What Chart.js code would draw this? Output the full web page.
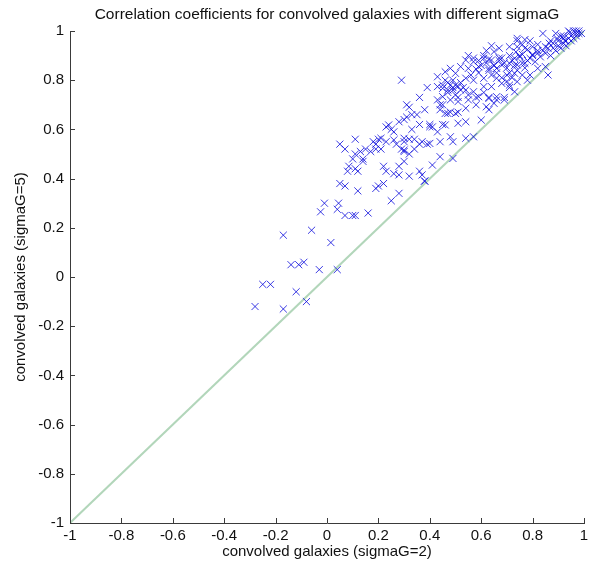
<!DOCTYPE html>
<html>
<head>
<meta charset="utf-8">
<script src="https://cdn.jsdelivr.net/npm/chart.js@4.4.1/dist/chart.umd.min.js"></script>
<style>
  body { margin: 0; background: #fff; }
  #wrap { width: 590px; height: 567px; }
</style>
</head>
<body>
<div id="wrap"><canvas id="chart"></canvas></div>
<script>
// correlation coefficient of each galaxy, sigmaG=2 (x) against sigmaG=5 (y)
const corrSigma2 = [
  -0.28, -0.25, -0.22, -0.17, -0.17, -0.14, -0.11, -0.09, -0.12, -0.08,
  -0.06, -0.03, 0.015, 0.04, 0.05, 0.07, 0.12, 0.19, 0.20, 0.22,
  0.28, 0.25, 0.38, -0.01, 0.045, -0.025, 0.04, 0.07, 0.10, 0.11,
  0.16, 0.36, 0.31, 0.38, 0.30, 0.31, 0.33, 0.35, 0.40, 0.36,
  0.33, 0.23, 0.25, 0.26, 0.11, 0.20, 0.18, 0.23, 0.27, 0.30,
  0.32, 0.34, 0.36, 0.37, 0.39, 0.05, 0.07, 0.11, 0.13, 0.15,
  0.17, 0.19, 0.29, 0.30, 0.32, 0.34, 0.10, 0.14, 0.14, 0.30,
  0.085, 0.08, 0.11, 0.12, 0.22, 0.28, 0.23, 0.26, 0.28, 0.36,
  0.37, 0.32, 0.38, 0.29, 0.39,
  0.74, 0.79, 0.84, 0.87, 0.91, 0.94, 0.96, 0.98, 0.92, 0.90,
  0.64, 0.62, 0.65, 0.67, 0.71, 0.74, 0.77, 0.80, 0.82, 0.85,
  0.88, 0.87, 0.83, 0.71, 0.73, 0.75, 0.79, 0.81, 0.77, 0.74,
  0.71, 0.54, 0.57, 0.61, 0.64, 0.68, 0.66, 0.63, 0.59, 0.55,
  0.52, 0.48, 0.50, 0.46, 0.43, 0.46, 0.49, 0.54, 0.56, 0.57,
  0.61, 0.64, 0.66, 0.70, 0.73, 0.76, 0.79, 0.82, 0.85, 0.86,
  0.43, 0.45, 0.47, 0.51, 0.54, 0.57, 0.61, 0.64, 0.68, 0.71,
  0.74, 0.78, 0.45, 0.48, 0.51, 0.55, 0.59, 0.63, 0.66, 0.69,
  0.73, 0.32, 0.44, 0.46, 0.48, 0.50, 0.54, 0.58, 0.62, 0.65,
  0.24, 0.28, 0.40, 0.43, 0.46, 0.51, 0.54, 0.60, 0.21, 0.26,
  0.30, 0.40, 0.44, 0.48, 0.49, 0.54, 0.57, 0.30, 0.41, 0.44,
  0.49,
  0.88, 0.90, 0.92, 0.93, 0.94, 0.95, 0.96, 0.97, 0.98, 0.99,
  0.95, 0.93, 0.89, 0.91, 0.86, 0.85, 0.84, 0.97,
  0.60, 0.62, 0.65, 0.67, 0.69, 0.72, 0.70, 0.73, 0.76, 0.78,
  0.80, 0.82, 0.75, 0.68, 0.63, 0.66, 0.71, 0.74, 0.59, 0.77,
  0.47, 0.48, 0.50, 0.52, 0.53, 0.49,
  0.51, 0.55, 0.58, 0.61, 0.63, 0.66, 0.69, 0.44, 0.47, 0.51,
  0.63, 0.41, 0.45,
  0.55, 0.57, 0.59, 0.61, 0.63, 0.65, 0.67, 0.58,
  0.74, 0.76, 0.78, 0.80, 0.77, 0.82, 0.76, 0.735,
  0.89, 0.92, 0.945, 0.97, 0.895, 0.925, 0.865,
  0.45, 0.47, 0.49, 0.52, 0.50,
  0.68, 0.70, 0.72, 0.71, 0.43, 0.45, 0.19, 0.21
];
const corrSigma5 = [
  -0.12, -0.03, -0.03, -0.13, 0.17, 0.05, 0.05, 0.06, -0.06, -0.10,
  0.19, 0.03, 0.14, 0.03, 0.38, 0.37, 0.35, 0.36, 0.37, 0.38,
  0.34, 0.31, 0.39, 0.30, 0.30, 0.265, 0.275, 0.25, 0.25, 0.25,
  0.26, 0.73, 0.70, 0.68, 0.64, 0.65, 0.66, 0.66, 0.62, 0.62,
  0.60, 0.61, 0.60, 0.59, 0.56, 0.56, 0.55, 0.55, 0.54, 0.55,
  0.56, 0.56, 0.54, 0.55, 0.54, 0.54, 0.52, 0.50, 0.51, 0.52,
  0.51, 0.52, 0.52, 0.51, 0.50, 0.52, 0.48, 0.48, 0.47, 0.47,
  0.45, 0.43, 0.44, 0.43, 0.45, 0.45, 0.43, 0.42, 0.415, 0.43,
  0.415, 0.41, 0.39, 0.80, 0.77,
  0.97, 0.96, 0.99, 0.96, 0.98, 1.00, 1.00, 1.00, 0.97, 0.96,
  0.94, 0.92, 0.916, 0.93, 0.936, 0.936, 0.93, 0.936, 0.92, 0.936,
  0.93, 0.90, 0.895, 0.90, 0.889, 0.895, 0.889, 0.875, 0.869, 0.862,
  0.869, 0.882, 0.875, 0.889, 0.882, 0.862, 0.848, 0.848, 0.855, 0.848,
  0.855, 0.848, 0.828, 0.834, 0.814, 0.80, 0.80, 0.808, 0.821, 0.80,
  0.808, 0.821, 0.808, 0.821, 0.828, 0.821, 0.821, 0.848, 0.855, 0.821,
  0.774, 0.767, 0.76, 0.774, 0.76, 0.753, 0.774, 0.774, 0.787, 0.78,
  0.794, 0.80, 0.733, 0.72, 0.713, 0.72, 0.733, 0.726, 0.733, 0.72,
  0.753, 0.69, 0.70, 0.665, 0.67, 0.665, 0.686, 0.70, 0.692, 0.706,
  0.618, 0.631, 0.611, 0.59, 0.618, 0.625, 0.631, 0.638, 0.564, 0.557,
  0.564, 0.543, 0.55, 0.57, 0.55, 0.564, 0.57, 0.516, 0.455, 0.489,
  0.482,
  0.95, 0.94, 0.95, 0.96, 0.97, 0.98, 0.97, 0.98, 0.99, 0.99,
  0.96, 0.94, 0.92, 0.93, 0.93, 0.91, 0.92, 0.99,
  0.86, 0.87, 0.86, 0.88, 0.87, 0.88, 0.85, 0.86, 0.87, 0.88,
  0.90, 0.91, 0.90, 0.89, 0.84, 0.83, 0.83, 0.84, 0.83, 0.85,
  0.79, 0.78, 0.78, 0.79, 0.77, 0.76,
  0.73, 0.74, 0.73, 0.75, 0.73, 0.72, 0.73, 0.68, 0.665, 0.67,
  0.68, 0.61, 0.62,
  0.90, 0.89, 0.88, 0.90, 0.885, 0.86, 0.89, 0.845,
  0.96, 0.945, 0.925, 0.905, 0.965, 0.945, 0.905, 0.915,
  0.99, 0.98, 0.995, 1.00, 0.97, 0.96, 0.95,
  0.78, 0.75, 0.77, 0.76, 0.74,
  0.81, 0.795, 0.81, 0.77, 0.72, 0.70, 0.54, 0.52
];
// reference line y = x
const diagX = [-1, 1];
const diagY = [-1, 1];
const tickValues = [-1, -0.8, -0.6, -0.4, -0.2, 0, 0.2, 0.4, 0.6, 0.8, 1];
const tickLabels = ['-1', '-0.8', '-0.6', '-0.4', '-0.2', '0', '0.2', '0.4', '0.6', '0.8', '1'];

const titleText = 'Correlation coefficients for convolved galaxies with different sigmaG';
const xLabel = 'convolved galaxies (sigmaG=2)';
const yLabel = 'convolved galaxies (sigmaG=5)';

const FONT = "'Liberation Sans', Arial, sans-serif";
const AXIS_COLOR = '#3a3a3a';

const points = corrSigma2.map((x, i) => ({x: x, y: corrSigma5[i]}));
const diag = diagX.map((x, i) => ({x: x, y: diagY[i]}));

// matlab style ticks, pointing into the plot
const innerTicks = {
    id: 'innerTicks',
    afterDraw(chart) {
        const {ctx, chartArea, scales} = chart;
        ctx.save();
        ctx.strokeStyle = AXIS_COLOR;
        ctx.lineWidth = 1;
        ctx.beginPath();
        tickValues.forEach(v => {
            const px = Math.round(scales.x.getPixelForValue(v)) + 0.5;
            ctx.moveTo(px, chartArea.bottom);
            ctx.lineTo(px, chartArea.bottom - 5);
            const py = Math.round(scales.y.getPixelForValue(v)) + 0.5;
            ctx.moveTo(chartArea.left, py);
            ctx.lineTo(chartArea.left + 5, py);
        });
        ctx.stroke();
        ctx.restore();
    }
};

function axisOptions(label, isX) {
    return {
        type: 'linear',
        min: -1,
        max: 1,
        afterBuildTicks: scale => {
            scale.ticks = tickValues.map(v => ({value: v}));
        },
        afterFit: scale => {
            if (isX) {
                scale.height = 44;
                scale.paddingLeft = 0;
                scale.paddingRight = 0;
            } else {
                scale.width = 70;
                scale.paddingTop = 0;
                scale.paddingBottom = 0;
            }
        },
        grid: {display: false, drawTicks: false},
        border: {display: true, color: AXIS_COLOR, width: 1},
        ticks: {
            color: '#111',
            font: {family: FONT, size: 15},
            padding: isX ? 4 : 6,
            maxRotation: 0,
            autoSkip: false,
            callback: (value) => tickLabels[tickValues.indexOf(value)]
        },
        title: {
            display: true,
            text: label,
            color: '#111',
            font: {family: FONT, size: 15},
            padding: isX ? {top: 0, bottom: 6} : {top: 12, bottom: 0}
        }
    };
}

new Chart(document.getElementById('chart'), {
    data: {
        datasets: [{
            type: 'scatter',
            data: points,
            pointStyle: 'crossRot',
            pointRadius: 5,
            pointBorderWidth: 1,
            borderColor: 'rgba(10, 10, 220, 0.8)',
            backgroundColor: 'rgba(10, 10, 220, 0.8)',
            clip: false
        }, {
            type: 'line',
            data: diag,
            borderColor: '#b2d6ba',
            borderWidth: 2,
            pointRadius: 0,
            fill: false
        }]
    },
    options: {
        responsive: true,
        maintainAspectRatio: false,
        animation: false,
        layout: {padding: {left: 0, right: 3.5, top: 0, bottom: 0}},
        plugins: {
            legend: {display: false},
            tooltip: {enabled: false},
            title: {
                display: true,
                text: titleText,
                fullSize: false,
                color: '#111',
                font: {family: FONT, size: 15.5, weight: 'normal'},
                padding: {top: 5, bottom: 7.4}
            }
        },
        scales: {
            x: axisOptions(xLabel, true),
            y: axisOptions(yLabel, false)
        }
    },
    plugins: [innerTicks]
});
</script>
</body>
</html>
